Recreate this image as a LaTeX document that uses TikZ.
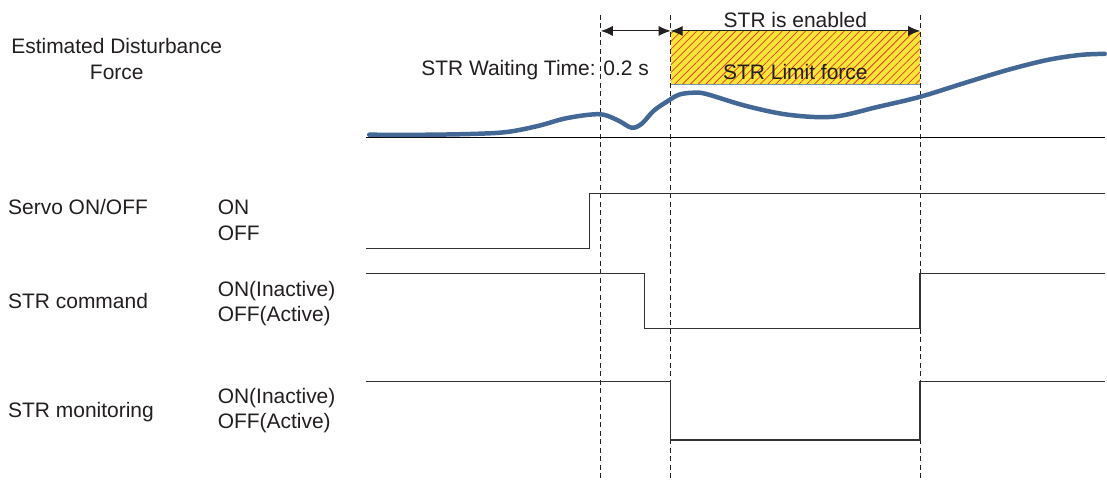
\documentclass[tikz,border=0pt]{standalone}
\usepackage{fontspec}
\setmainfont{Liberation Sans}
\usepackage{tikz}
\usetikzlibrary{calc,arrows.meta,positioning,patterns.meta}
\definecolor{forceBlue}{RGB}{68,104,150}
\definecolor{limitYellow}{RGB}{250,230,55}
\definecolor{limitRed}{RGB}{228,60,45}
\definecolor{limitEdge}{RGB}{120,150,170}
\definecolor{sigGray}{RGB}{55,50,50}
\definecolor{txtGray}{RGB}{35,31,32}

\begin{document}
\begin{tikzpicture}[x=1pt,y=-1pt,
  lbl/.style={font=\fontsize{21}{26}\selectfont, inner sep=0pt, text=txtGray},
  signal/.style={sigGray, line width=1.3pt},
  guide/.style={txtGray, line width=1pt, dash pattern=on 5pt off 3.5pt},
  span/.style={txtGray, line width=1pt, {Latex[length=12pt,width=10pt]}-{Latex[length=12pt,width=10pt]}}]
\fill[white] (0,0) rectangle (1107,480);

% STR limit band
\fill[limitYellow] (672,31) rectangle (922,85);
\fill[pattern={Lines[angle=45,distance=5.5pt,line width=0.75pt]}, pattern color=limitRed] (672,31) rectangle (922,85);
\draw[limitEdge, line width=0.9pt] (672,85) -- (922,85);

% time instants
\foreach \t/\x in {wait/602,on/672,off/922}{
  \coordinate (\t-top) at (\x,15);
  \coordinate (\t-arr) at (\x,31);
  \coordinate (\t-bot) at (\x,480);
  \draw[guide] (\t-top) -- (\t-bot);
}
\draw[span] (wait-arr) -- (on-arr);
\draw[span] (on-arr) -- (off-arr);

\node[lbl, anchor=base] (enabled) at (797,28) {STR is enabled};
\node[lbl, anchor=base] (limit) at (797,80) {STR Limit force};
\node[lbl, anchor=base west] (waittime) at (422,76) {STR Waiting Time: 0.2 s};

% estimated disturbance force
\draw[black, line width=1.2pt] (367,138) -- (1107,138);
\draw[forceBlue, line width=4.5pt, line cap=round] plot[smooth, tension=0.55] coordinates {
  (370,135) (430,135) (480,134) (510,132) (540,126) (565,119) (590,115) (605,115)
  (620,121) (633,128) (643,124) (655,111) (668,102) (680,95) (693,93) (707,94)
  (747,106) (790,115) (835,117) (880,107) (922,97) (967,83) (1010,70) (1050,60)
  (1083,55) (1107,54)};

% signal traces
\draw[signal] (367,249) -- (591,249) -- (591,194) -- (1107,194);
\draw[signal] (367,274) -- (646,274) -- (646,329) -- (922,329) -- (922,274) -- (1107,274);
\draw[signal] (367,382) -- (672,382) -- (672,441) -- (922,441) -- (922,382) -- (1107,382);

% row labels
\node[lbl, align=center] (est) at (117,59) {Estimated Disturbance\\Force};
\node[lbl, anchor=base west] (servo) at (8,215) {Servo ON/OFF};
\node[lbl, anchor=base west] (servoOn) at (218,215) {ON};
\node[lbl, anchor=base west] (servoOff) at (218,241) {OFF};
\node[lbl, anchor=base west] (cmd) at (8,309) {STR command};
\node[lbl, anchor=base west] (cmdOn) at (218,297) {ON(Inactive)};
\node[lbl, anchor=base west] (cmdOff) at (218,322) {OFF(Active)};
\node[lbl, anchor=base west] (mon) at (8,418) {STR monitoring};
\node[lbl, anchor=base west] (monOn) at (218,404) {ON(Inactive)};
\node[lbl, anchor=base west] (monOff) at (218,429) {OFF(Active)};
\end{tikzpicture}
\end{document}
